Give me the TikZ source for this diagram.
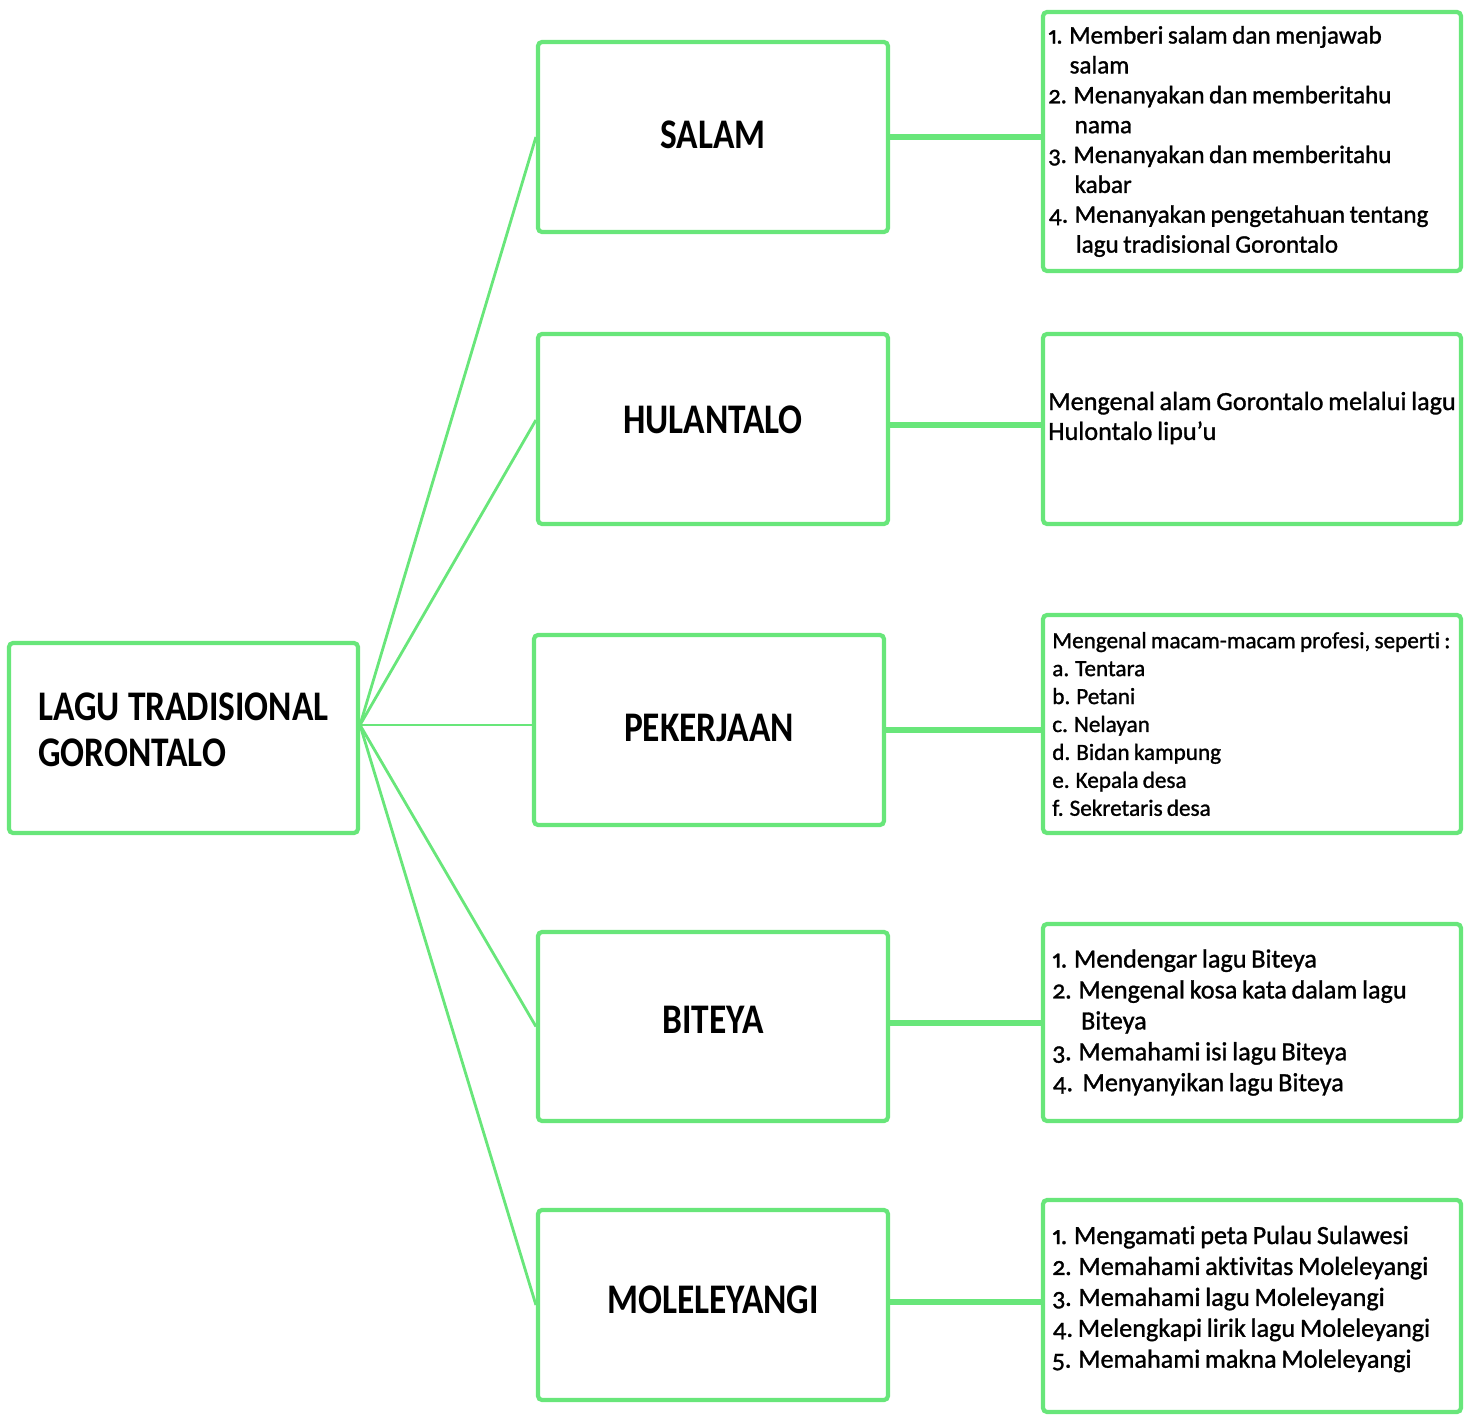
\documentclass[tikz,border=0pt]{standalone}
\usepackage{fontspec}
\setmainfont{Carlito}[Numbers={OldStyle,Proportional}]
\newfontfamily\titlefont{Carlito}[FakeStretch=0.84]
\newfontfamily\listfont{Carlito}[Numbers={OldStyle,Proportional}, FakeBold=1.2,
                                 WordSpace=0.8, Ligatures=NoCommon]
\usepackage{tikz}
\usetikzlibrary{positioning}
\definecolor{leafgreen}{RGB}{104,230,122}

\begin{document}
\begin{tikzpicture}[x=0.02cm, y=-0.02cm]
    % Setup the styles for the boxes and links
        \tikzset{box style/.style={draw=leafgreen,
                                   line width=2.4pt,
                                   rounded corners=0.08cm,
                                   minimum width=7cm,
                                   minimum height=3.8cm,
                                   inner sep=0pt,
                                   font=\titlefont\bfseries\fontsize{24}{26.5}\selectfont},
                 list box/.style={box style,
                                  minimum width=8.36cm},
                 list text/.style 2 args={anchor=west,
                                   align=left,
                                   inner sep=0pt,
                                   font=\listfont\fontsize{#1}{#2}\selectfont},
                 thin link/.style={draw=leafgreen, line width=1.6pt},
                 thick link/.style={draw=leafgreen, line width=3.4pt}}
        \useasboundingbox (0,0) rectangle (1470,1416);
        % Draw the root and the topic boxes
        \node[box style, align=left, minimum width=6.98cm, text depth=0.34cm] at (183.5,738) (root) {LAGU TRADISIONAL\\GORONTALO};
        \node[box style, text depth=0.08cm] at (713,137)  (salam)     {SALAM};
        \node[box style, text depth=0.36cm] at (713,429)  (hulantalo) {HULANTALO};
        \node[box style, text depth=0.1cm]  at (709,730)  (pekerjaan) {PEKERJAAN};
        \node[box style, minimum height=3.78cm, text depth=0.28cm] at (713,1026.5) (biteya) {BITEYA};
        \node[box style, text depth=0.2cm]  at (713,1305) (moleleyangi) {MOLELEYANGI};
        % Draw the list boxes
        \node[list box, minimum height=5.18cm] at (1252,141.5) (salamlist) {};
        \node[list box] at (1252,429)                        (hulantalolist) {};
        \node[list box, minimum height=4.36cm] at (1252,724) (pekerjaanlist) {};
        \node[list box, minimum height=3.94cm] at (1252,1022.5) (biteyalist) {};
        \node[list box, minimum height=4.24cm] at (1252,1306) (moleleyangilist) {};
        % Fill the list boxes
        \node[list text={14.3}{17}, xshift=0.14cm] at (salamlist.west) (salamtext)
            {1. Memberi salam dan menjawab\\\hspace*{0.85em}salam\\
             2. Menanyakan dan memberitahu\\\hspace*{1.05em}nama\\
             3. Menanyakan dan memberitahu\\\hspace*{1.05em}kabar\\
             4. Menanyakan pengetahuan tentang\\\hspace*{1.1em}lagu tradisional Gorontalo};
        \node[list text={14.9}{17}, xshift=0.14cm, yshift=0.22cm] at (hulantalolist.west) (hulantalotext)
            {Mengenal alam Gorontalo melalui lagu\\Hulontalo lipu’u};
        \node[list text={13.2}{15.9}, xshift=0.22cm] at (pekerjaanlist.west) (pekerjaantext)
            {Mengenal macam-macam profesi, seperti :\\a. Tentara\\b. Petani\\c. Nelayan\\
             d. Bidan kampung\\e. Kepala desa\\f. Sekretaris desa};
        \node[list text={14.9}{17.6}, xshift=0.22cm] at (biteyalist.west) (biteyatext)
            {1. Mendengar lagu Biteya\\2. Mengenal kosa kata dalam lagu\\\hspace*{1.1em}Biteya\\
             3. Memahami isi lagu Biteya\\4.\ \ Menyanyikan lagu Biteya};
        \node[list text={14.9}{17.6}, xshift=0.22cm, yshift=0.14cm] at (moleleyangilist.west) (moleleyangitext)
            {1. Mengamati peta Pulau Sulawesi\\2. Memahami aktivitas Moleleyangi\\
             3. Memahami lagu Moleleyangi\\4.\ Melengkapi lirik lagu Moleleyangi\\
             5. Memahami makna Moleleyangi};
        % Connect the boxes
        \coordinate (hub) at (360,725);
        \draw[thin link]
            (hub) edge (salam.west)
            (hub) edge ([yshift=0.18cm]hulantalo.west)
            (hub) edge (hub -| pekerjaan.west)
            (hub) edge (biteya.west)
            (hub) edge (moleleyangi.west);
        \draw[thick link]
            (salam.east)       edge (salam.east -| salamlist.west)
            ([yshift=0.08cm]hulantalo.east) edge ([yshift=0.08cm]hulantalo.east -| hulantalolist.west)
            (pekerjaan.east)   edge (pekerjaan.east -| pekerjaanlist.west)
            ([yshift=0.08cm]biteya.east) edge ([yshift=0.08cm]biteya.east -| biteyalist.west)
            ([yshift=0.06cm]moleleyangi.east) edge ([yshift=0.06cm]moleleyangi.east -| moleleyangilist.west);
\end{tikzpicture}
\end{document}
